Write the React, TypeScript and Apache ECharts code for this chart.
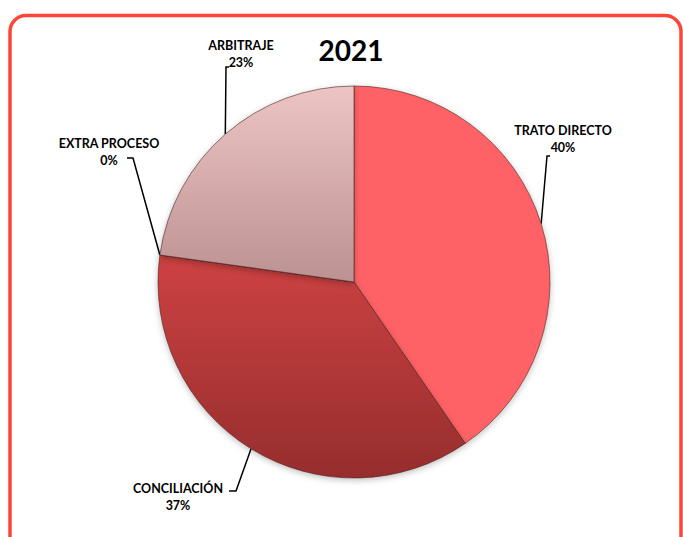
import React, { useEffect, useRef } from "react";
import * as echarts from "echarts";

const TITLE = "2021";
const CATEGORIES = ["TRATO DIRECTO", "CONCILIACIÓN", "EXTRA PROCESO", "ARBITRAJE"];
const VALUES = [40.4, 36.8, 0, 22.8];

// label placement (layout only)
const LABEL_POS: [number, number][] = [
  [563, 139],
  [178, 497],
  [109, 152],
  [241, 54],
];
// leader line elbow points (layout only)
const LINE_ELBOWS: [number, number][][] = [
  [[547, 156], [550, 156]],
  [[236, 491], [229, 491]],
  [[133, 158], [127, 158]],
  [[226, 67], [229, 67]],
];

const COLORS: any[] = [
  "#FF6266",
  new echarts.graphic.LinearGradient(0, 0, 0, 1, [
    { offset: 0, color: "#CE4242" },
    { offset: 1, color: "#962D2D" },
  ]),
  "#D04444",
  new echarts.graphic.LinearGradient(0, 0, 0, 1, [
    { offset: 0, color: "#EDC4C4" },
    { offset: 1, color: "#BC9191" },
  ]),
];

export default function App() {
  const ref = useRef<HTMLDivElement>(null);
  useEffect(() => {
    if (!ref.current) return;
    const chart = echarts.init(ref.current, undefined, { renderer: "svg" });
    const center: [number, number] = [354, 282];
    const radius = 196;
    chart.setOption({
      animation: false,
      backgroundColor: "#ffffff",
      title: {
        text: TITLE,
        left: 346,
        top: 31,
        textAlign: "center",
        textStyle: {
          fontFamily: "Lato",
          fontWeight: "bold",
          fontSize: 28,
          color: "#000",
        },
      },
      graphic: [
        {
          type: "rect",
          shape: { x: 10, y: 15.5, width: 671, height: 620, r: 16 },
          style: { fill: "none", stroke: "#FF4538", lineWidth: 3.5 },
          z: 10,
        },
      ],
      series: [
        {
          type: "pie",
          center,
          radius,
          startAngle: 90,
          clockwise: true,
          percentPrecision: 0,
          avoidLabelOverlap: false,
          data: CATEGORIES.map((name, i) => ({
            name,
            value: VALUES[i],
            itemStyle: { color: COLORS[i] },
          })),
          itemStyle: {
            borderColor: "rgba(80,35,35,0.6)",
            borderWidth: 1,
            shadowBlur: 6,
            shadowColor: "rgba(0,0,0,0.25)",
            shadowOffsetY: 2,
          },
          label: {
            show: true,
            position: "outside",
            formatter: "{b}\n{d}%",
            fontFamily: "Lato",
            fontWeight: "bold",
            fontSize: 12.5,
            lineHeight: 17,
            color: "#000",
            align: "center",
          },
          labelLine: {
            show: true,
            lineStyle: { color: "#000", width: 1.5 },
          },
          labelLayout: (params: any) => {
            const i = params.dataIndex;
            let anchor: number[] | undefined =
              params.labelLinePoints && params.labelLinePoints[0];
            if (!anchor) {
              const total = VALUES.reduce((a, b) => a + b, 0);
              let before = 0;
              for (let k = 0; k < i; k++) before += VALUES[k];
              const mid = (90 - ((before + VALUES[i] / 2) / total) * 360) * (Math.PI / 180);
              anchor = [center[0] + radius * Math.cos(mid), center[1] - radius * Math.sin(mid)];
            }
            return {
              x: LABEL_POS[i][0],
              y: LABEL_POS[i][1],
              align: "center",
              verticalAlign: "middle",
              labelLinePoints: [anchor, ...LINE_ELBOWS[i]],
            };
          },
        },
      ],
    });
    return () => chart.dispose();
  }, []);
  return (
    <div
      ref={ref}
      style={{ position: "fixed", left: 0, top: 0, width: 683, height: 537 }}
    />
  );
}
